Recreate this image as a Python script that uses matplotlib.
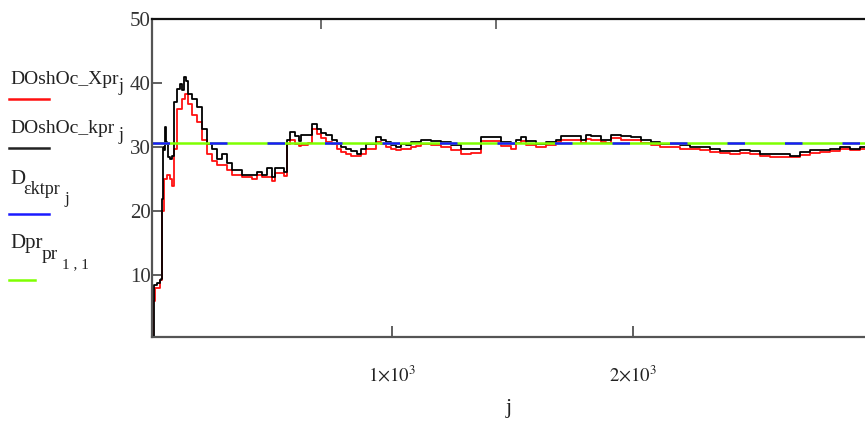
import matplotlib
matplotlib.use("Agg")
import matplotlib.pyplot as plt
from matplotlib.lines import Line2D

plt.rcParams['font.family'] = ['Liberation Serif', 'DejaVu Serif']
plt.rcParams['mathtext.fontset'] = 'stix'

# values (j, value)
j_black = [0, 8, 21, 33, 38, 41, 45, 50, 54, 58, 62, 68, 75, 83, 91, 104, 116, 125, 133, 141,
           149, 166, 187, 207, 228, 249, 270, 290, 311, 332, 373, 415, 436, 456, 477, 498, 510,
           539, 548, 560, 573, 593, 610, 622, 651, 664, 685, 705, 726, 747, 768, 788, 809, 830,
           851, 871, 892, 934, 954, 975, 996, 1016, 1037, 1058, 1079, 1100, 1120, 1162, 1203,
           1245, 1286, 1328, 1369, 1411, 1452, 1494, 1514, 1535, 1556, 1597, 1639, 1680, 1701,
           1743, 1784, 1805, 1826, 1867, 1888, 1909, 1950, 1992, 2033, 2075, 2116, 2157, 2199,
           2240, 2282, 2323, 2365, 2406, 2448, 2489, 2531, 2572, 2614, 2655, 2697, 2738, 2780,
           2821, 2863, 2904, 2946, 2967]
doshoc_kpr = [0.6, 8.5, 8.8, 9.3, 9.5, 22.0, 30.0, 29.5, 33.1, 30.8, 30.5, 28.5, 28.1, 28.6, 37.0,
              39.1, 39.9, 39.0, 41.0, 40.3, 38.3, 37.5, 36.3, 32.8, 30.5, 29.7, 28.1, 28.9, 27.6,
              26.5, 25.7, 25.6, 26.2, 25.7, 26.8, 25.3, 26.8, 26.8, 26.2, 31.2, 32.3, 31.7, 30.9,
              31.9, 31.9, 33.6, 32.8, 32.2, 31.9, 31.2, 30.5, 30.0, 29.7, 29.4, 29.0, 29.7, 30.5,
              31.6, 31.2, 30.8, 30.3, 30.1, 30.5, 30.3, 30.8, 30.8, 31.2, 31.0, 30.8, 30.3, 29.7,
              29.7, 31.6, 31.6, 30.8, 30.5, 31.2, 31.6, 30.9, 30.5, 30.8, 31.2, 31.7, 31.7, 31.2,
              31.9, 31.7, 31.2, 31.2, 31.9, 31.7, 31.6, 31.2, 30.8, 30.5, 30.5, 30.3, 30.1, 30.0,
              29.7, 29.4, 29.4, 29.5, 29.4, 28.9, 28.9, 28.9, 28.7, 29.2, 29.5, 29.5, 29.7, 30.0,
              29.8, 30.1, 30.0]

j_red = [0, 4, 12, 33, 41, 50, 62, 75, 83, 91, 104, 125, 137, 149, 166, 187, 207, 228, 249, 270,
         290, 311, 332, 373, 415, 436, 456, 498, 510, 539, 548, 560, 573, 593, 610, 622, 651, 664,
         685, 705, 726, 747, 768, 788, 809, 830, 851, 871, 892, 934, 954, 975, 996, 1016, 1037,
         1058, 1079, 1100, 1120, 1162, 1203, 1245, 1286, 1328, 1369, 1411, 1452, 1494, 1514, 1535,
         1556, 1597, 1639, 1680, 1701, 1743, 1784, 1805, 1826, 1867, 1888, 1909, 1950, 1992, 2033,
         2075, 2116, 2157, 2199, 2240, 2282, 2323, 2365, 2406, 2448, 2489, 2531, 2572, 2614, 2655,
         2697, 2738, 2780, 2821, 2863, 2904, 2946, 2967]
doshoc_xpr = [0.2, 6.0, 8.0, 9.3, 20.0, 25.0, 25.6, 25.0, 24.0, 29.7, 36.0, 37.5, 38.3, 36.7, 35.0,
              34.0, 31.2, 28.9, 27.8, 27.3, 27.3, 26.5, 25.7, 25.3, 25.0, 25.6, 25.3, 24.8, 26.0,
              26.0, 25.5, 30.5, 31.2, 30.5, 30.2, 30.4, 30.6, 32.8, 32.0, 31.4, 30.8, 30.5, 29.8,
              29.2, 28.9, 28.7, 28.6, 29.0, 29.8, 30.8, 30.5, 30.0, 29.8, 29.5, 29.8, 29.7, 30.0,
              30.2, 30.5, 30.4, 30.0, 29.5, 29.0, 29.1, 31.0, 31.0, 30.2, 29.8, 30.6, 31.0, 30.4,
              30.0, 30.4, 30.8, 31.2, 31.1, 30.7, 31.3, 31.2, 30.8, 30.7, 31.4, 31.2, 31.1, 30.7,
              30.3, 30.0, 30.0, 29.8, 29.7, 29.6, 29.3, 29.1, 29.0, 29.1, 29.0, 28.6, 28.5, 28.5,
              28.4, 28.8, 29.1, 29.2, 29.4, 29.7, 29.5, 29.8, 29.7]

d_ektpr = 30.7
dpr_pr = 30.7

x_ticks = [1000, 2000]
x_ticklabels = [r'$1{\times}10^{3}$', r'$2{\times}10^{3}$']
y_ticks = [10, 20, 30, 40, 50]
top_ticks = [703, 1431]

W, H = 865, 421
fig = plt.figure(figsize=(W / 100, H / 100), dpi=100)
ax = fig.add_axes([152 / W, 1 - 337 / H, 1 - 152 / W, (337 - 19) / H])

ax.plot(j_red, doshoc_xpr, color='#ff1010', lw=1.3, drawstyle='steps-post')
ax.plot(j_black, doshoc_kpr, color='black', lw=1.3, drawstyle='steps-post')
ax.axhline(dpr_pr, color='#7fff00', lw=1.8)
ax.axhline(d_ektpr, color='#1a1aff', lw=1.8, dashes=(7, 16))

ax.set_xlim(0, 2967)
ax.set_ylim(0.4, 50)
ax.set_xticks(x_ticks)
ax.set_xticklabels(x_ticklabels, fontsize=13.5, color='#222222')
ax.set_yticks(y_ticks)
ax.set_yticklabels([str(v) for v in y_ticks], fontsize=15, color='#333333')
ax.tick_params(axis='x', direction='in', length=8, width=1.2, pad=20, color='#444444')
ax.tick_params(axis='y', direction='in', length=7, width=1.2, pad=1, color='#444444')
ax.spines['right'].set_visible(False)
for s in ['left', 'bottom']:
    ax.spines[s].set_color('#555555')
    ax.spines[s].set_linewidth(1.6)
ax.spines['top'].set_color('#111111')
ax.spines['top'].set_linewidth(1.6)

top = ax.secondary_xaxis('top')
top.set_xticks(top_ticks)
top.set_xticklabels(['', ''])
top.tick_params(direction='in', length=7, width=1.2, color='#555555')
top.spines['top'].set_visible(False)

ax.set_xlabel('j', fontsize=16, color='#222222', labelpad=10)


def put(x, y, s, size):
    # x, y in pixels from the top-left, y is the baseline
    fig.text(x / W, 1 - y / H, s, fontsize=size, color='#222222', va='baseline', ha='left')


def key(x0, x1, y, col):
    fig.add_artist(Line2D([x0 / W, x1 / W], [1 - y / H, 1 - y / H],
                          color=col, lw=1.8, transform=fig.transFigure))


# left-hand legend, Mathcad style: label with a short line underneath
put(10, 84, 'DOshOc_Xpr', 14)
put(119, 91, 'j', 13)
key(9, 49, 99, '#ff1010')

put(10, 133, 'DOshOc_kpr', 14)
put(119, 140, 'j', 13)
key(9, 49, 148, '#222222')

put(10, 184, 'D', 15)
put(23, 194, '\u03b5ktpr', 13)
put(64, 203, 'j', 12)
key(9, 49, 214, '#1a1aff')

put(10, 248, 'Dpr', 15)
put(42, 259, 'pr', 14)
put(62, 268, '1 , 1', 11)
key(9, 35, 280, '#7fff00')

fig.savefig('out.png', dpi=100)
